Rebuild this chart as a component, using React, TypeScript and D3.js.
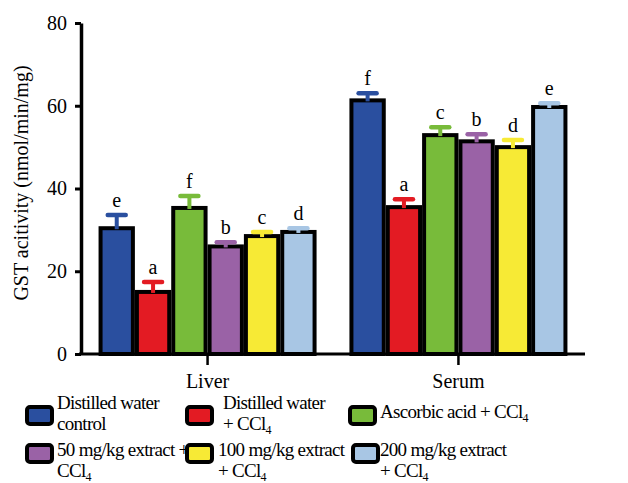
import React from 'react'
import * as d3 from 'd3'

// data
const groups = ['Liver', 'Serum']
const treatments = ['dwControl', 'dwCCl4', 'ascorbic', 'ext50', 'ext100', 'ext200']
const liverValues = [30.4, 15.0, 35.3, 26.0, 28.5, 29.5]
const liverErrors = [3.2, 2.4, 2.9, 1.0, 1.0, 0.9]
const liverLetters = ['e', 'a', 'f', 'b', 'c', 'd']
const serumValues = [61.3, 35.5, 52.9, 51.4, 50.0, 59.7]
const serumErrors = [1.7, 1.9, 1.9, 1.7, 1.7, 0.9]
const serumLetters = ['f', 'a', 'c', 'b', 'd', 'e']
const yTicks = [0, 20, 40, 60, 80]
const legendLabels = [
  ['Distilled water', 'control'],
  ['Distilled water', '+ CCl4'],
  ['Ascorbic acid + CCl4'],
  ['50 mg/kg extract +', 'CCl4'],
  ['100 mg/kg extract', '+ CCl4'],
  ['200 mg/kg extract', '+ CCl4'],
]

const colors = ['#2a4f9f', '#e31b23', '#78bb3a', '#9a62a6', '#f7ea35', '#a8c6e4']

const W = 628, H = 483
const font = '"Liberation Serif", "Times New Roman", serif'

// legend placement (swatch x/y, text x)
const legendPos = [
  { sx: 27, sy: 407, tx: 57, ty: 409 },
  { sx: 187, sy: 407, tx: 223, ty: 409 },
  { sx: 350, sy: 407, tx: 380, ty: 418 },
  { sx: 27, sy: 445, tx: 57, ty: 456 },
  { sx: 187, sy: 445, tx: 218, ty: 456 },
  { sx: 353, sy: 445, tx: 380, ty: 456 },
]

// "CCl4" always ends a line, so the subscript needs no reset
const Chem = ({ text }: { text: string }) => {
  if (!text.includes('CCl4')) return <>{text}</>
  const before = text.replace('CCl4', '')
  return (
    <>
      {before}CCl<tspan fontSize={12} dy={4}>4</tspan>
    </>
  )
}

const App = () => {
  const x0 = d3.scaleBand().domain(groups).range([81, 585]).paddingInner(0.131).paddingOuter(0.07)
  const x1 = d3.scaleBand().domain(treatments).range([0, x0.bandwidth()]).padding(0)
  const y = d3.scaleLinear().domain([0, 80]).range([354, 23])

  const series = [
    { g: 'Liver', vals: liverValues, errs: liverErrors, letters: liverLetters },
    { g: 'Serum', vals: serumValues, errs: serumErrors, letters: serumLetters },
  ]

  const axisRef = React.useRef<SVGGElement>(null)
  React.useEffect(() => {
    const g = d3.select(axisRef.current)
    g.selectAll('*').remove()
    g.call(d3.axisLeft(y).tickValues(yTicks).tickSize(6).tickSizeOuter(0).tickPadding(8) as any)
    g.select('.domain').attr('stroke-width', 3.5)
    g.selectAll('.tick line').attr('stroke-width', 3)
    g.selectAll('.tick text').attr('font-family', font).attr('font-size', 20).attr('fill', '#000')
  }, [])

  return (
    <svg width={W} height={H} style={{ position: 'absolute', left: 0, top: 0, background: '#fff' }}>
      {series.map(s => (
        <g key={s.g} transform={`translate(${x0(s.g)},0)`}>
          {treatments.map((t, i) => (
            <rect key={t} x={x1(t)! + 2} y={y(s.vals[i])} width={x1.bandwidth() - 4}
              height={y(0) - y(s.vals[i])} fill={colors[i]} stroke="#000" strokeWidth={4} />
          ))}
          {treatments.map((t, i) => {
            const cx = x1(t)! + x1.bandwidth() / 2
            const top = y(s.vals[i] + s.errs[i])
            return (
              <g key={t}>
                <line x1={cx} x2={cx} y1={top} y2={y(s.vals[i]) + 1} stroke={colors[i]} strokeWidth={4} />
                <line x1={cx - 9} x2={cx + 9} y1={top} y2={top} stroke={colors[i]} strokeWidth={4.5} strokeLinecap="round" />
                <text x={cx} y={top - 8} textAnchor="middle" fontFamily={font} fontSize={20}>{s.letters[i]}</text>
              </g>
            )
          })}
        </g>
      ))}
      <g ref={axisRef} transform="translate(81,0)" />
      <line x1={79} x2={585} y1={354} y2={354} stroke="#000" strokeWidth={3} />
      {groups.map(g => {
        const cx = x0(g)! + x0.bandwidth() / 2
        return (
          <g key={g}>
            <line x1={cx} x2={cx} y1={354} y2={365} stroke="#000" strokeWidth={2.5} />
            <text x={cx} y={388} textAnchor="middle" fontFamily={font} fontSize={20}>{g}</text>
          </g>
        )
      })}
      <text transform="translate(28,183) rotate(-90)" textAnchor="middle" fontFamily={font} fontSize={20}>
        GST acitivity (nmol/min/mg)
      </text>
      {legendLabels.map((lines, i) => {
        const p = legendPos[i]
        return (
          <g key={i}>
            <rect x={p.sx} y={p.sy} width={25} height={17} rx={3} fill={colors[i]} stroke="#000" strokeWidth={4} />
            {lines.map((ln, j) => (
              <text key={j} x={p.tx} y={p.ty + j * 21} fontFamily={font} fontSize={19} letterSpacing={-0.7}>
                <Chem text={ln} />
              </text>
            ))}
          </g>
        )
      })}
    </svg>
  )
}

export default App
